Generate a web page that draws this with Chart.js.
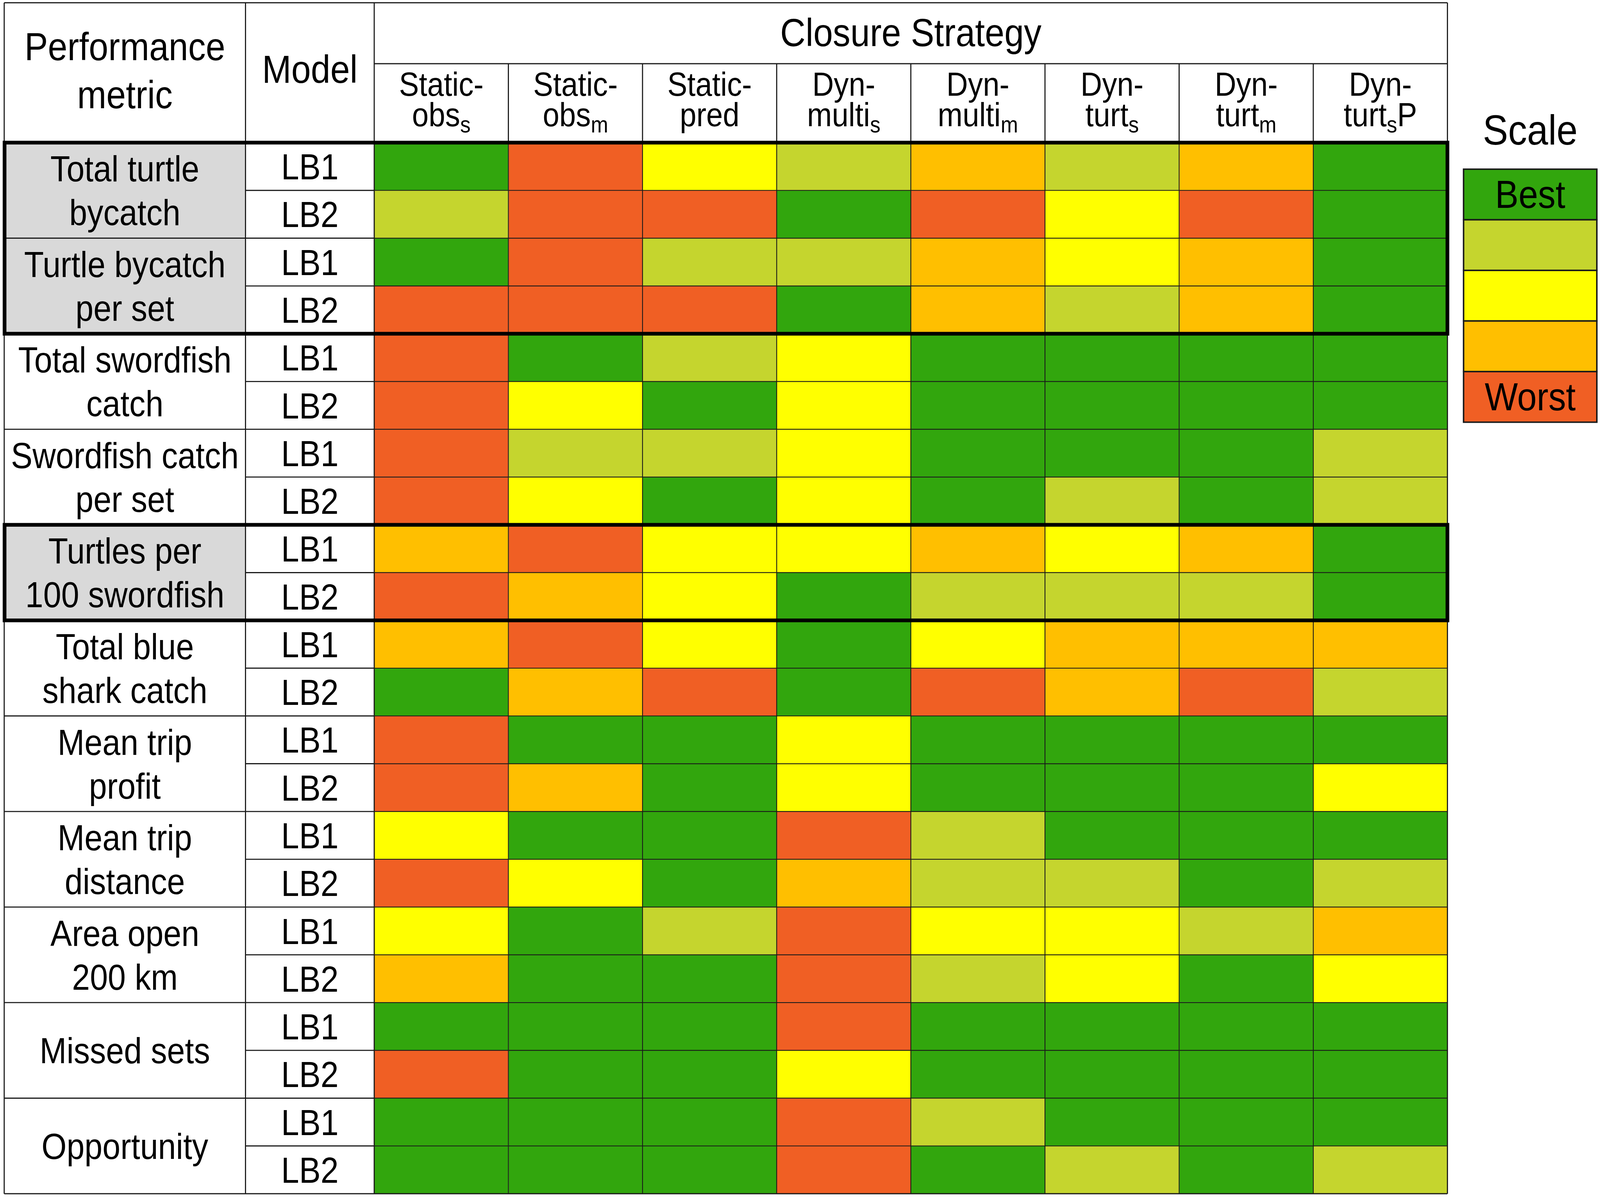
<!DOCTYPE html>
<html>
<head>
<meta charset="utf-8">
<title>Closure strategy performance</title>
<script src="https://cdn.jsdelivr.net/npm/chart.js@4.4.1/dist/chart.umd.min.js"></script>
<style>
  html, body { margin: 0; padding: 0; background: #fff; overflow: hidden; }
  canvas { display: block; }
</style>
</head>
<body>
<canvas id="grid"></canvas>
<script>
// Rows: each performance metric has one LB1 and one LB2 row
const metrics = [
    ['Total turtle', 'bycatch'],
    ['Turtle bycatch', 'per set'],
    ['Total swordfish', 'catch'],
    ['Swordfish catch', 'per set'],
    ['Turtles per', '100 swordfish'],
    ['Total blue', 'shark catch'],
    ['Mean trip', 'profit'],
    ['Mean trip', 'distance'],
    ['Area open', '200 km'],
    ['Missed sets'],
    ['Opportunity']
];
const models = ['LB1', 'LB2'];
const highlighted = [0, 1, 4];   // metric groups shaded grey / boxed

// Closure strategy column headers: [line 1, line 2, subscript, suffix]
const strategies = [
    ['Static-', 'obs', 's', ''],
    ['Static-', 'obs', 'm', ''],
    ['Static-', 'pred', '', ''],
    ['Dyn-', 'multi', 's', ''],
    ['Dyn-', 'multi', 'm', ''],
    ['Dyn-', 'turt', 's', ''],
    ['Dyn-', 'turt', 'm', ''],
    ['Dyn-', 'turt', 's', 'P']
];

// Rank of each cell, 1 = best ... 5 = worst (rows top to bottom)
const staticObsS = [1, 2, 1, 5, 5, 5, 5, 5, 4, 5, 4, 1, 5, 5, 3, 5, 3, 4, 1, 5, 1, 1];
const staticObsM = [5, 5, 5, 5, 1, 3, 2, 3, 5, 4, 5, 4, 1, 4, 1, 3, 1, 1, 1, 1, 1, 1];
const staticPred = [3, 5, 2, 5, 2, 1, 2, 1, 3, 3, 3, 5, 1, 1, 1, 1, 2, 1, 1, 1, 1, 1];
const dynMultiS  = [2, 1, 2, 1, 3, 3, 3, 3, 3, 1, 1, 1, 3, 3, 5, 4, 5, 5, 5, 3, 5, 5];
const dynMultiM  = [4, 5, 4, 4, 1, 1, 1, 1, 4, 2, 3, 5, 1, 1, 2, 2, 3, 2, 1, 1, 2, 1];
const dynTurtS   = [2, 3, 3, 2, 1, 1, 1, 2, 3, 2, 4, 4, 1, 1, 1, 2, 3, 3, 1, 1, 1, 2];
const dynTurtM   = [4, 5, 4, 4, 1, 1, 1, 1, 4, 2, 4, 5, 1, 1, 1, 1, 2, 1, 1, 1, 1, 1];
const dynTurtSP  = [1, 1, 1, 1, 1, 1, 2, 2, 1, 1, 4, 2, 1, 3, 1, 2, 4, 3, 1, 1, 1, 2];
const scores = [staticObsS, staticObsM, staticPred, dynMultiS, dynMultiM, dynTurtS, dynTurtM, dynTurtSP];

// Scale, best to worst
const scaleColors = ['#32A60D', '#C5D52E', '#FFFF00', '#FFBF00', '#F05F24'];
const scaleLabels = ['Best', '', '', '', 'Worst'];

const FONT = '"Liberation Sans", Arial, Helvetica, sans-serif';
const GREY = '#D9D9D9';
const LINE = '#1a1a1a';

const rowLabels = [];
metrics.forEach(m => models.forEach(lb => rowLabels.push(m.join(' ') + ' ' + lb)));

// layout was measured on a 4562 x 3066 picture; stretch it to fill the window
const BASE_W = 4562, BASE_H = 3066;
const kx = window.innerWidth / BASE_W;
const ky = window.innerHeight / BASE_H;
const ux = v => v * kx;
const uy = v => v * ky;
const lw = v => v * (kx + ky) / 2;
const squeeze = kx / ky;   // horizontal text scale so glyphs follow the stretch

const TABLE_LEFT = 12;
const METRIC_RIGHT = 700;
const TABLE_TOP = 7;
const HEADER_MID = 163;

function rowEdge(chart, i) {
    const y = chart.scales.y;
    const h = (y.bottom - y.top) / rowLabels.length;
    return y.getPixelForValue(i) - h / 2;
}

function hLine(ctx, x1, x2, y) {
    ctx.beginPath();
    ctx.moveTo(x1, y);
    ctx.lineTo(x2, y);
    ctx.stroke();
}

function vLine(ctx, x, y1, y2) {
    ctx.beginPath();
    ctx.moveTo(x, y1);
    ctx.lineTo(x, y2);
    ctx.stroke();
}

function textWidth(ctx, str, size) {
    ctx.font = `${uy(size)}px ${FONT}`;
    return ctx.measureText(str).width * squeeze;
}

function drawText(ctx, str, x, y, size, align) {
    ctx.save();
    ctx.translate(x, y);
    ctx.scale(squeeze, 1);
    ctx.font = `${uy(size)}px ${FONT}`;
    ctx.textAlign = align || 'center';
    ctx.textBaseline = 'alphabetic';
    ctx.fillText(str, 0, 0);
    ctx.restore();
}

function drawSubText(ctx, cx, baseline, main, sub, tail, size) {
    const subSize = size * 0.7;
    const w1 = textWidth(ctx, main, size);
    const w2 = sub ? textWidth(ctx, sub, subSize) : 0;
    const w3 = textWidth(ctx, tail, size);
    let x = cx - (w1 + w2 + w3) / 2;
    drawText(ctx, main, x, baseline, size, 'left');
    x += w1;
    if (sub) {
        drawText(ctx, sub, x, baseline + uy(16), subSize, 'left');
        x += w2;
    }
    if (tail) drawText(ctx, tail, x, baseline, size, 'left');
}

const tableChrome = {
    id: 'tableChrome',
    beforeDraw(chart) {
        const ctx = chart.ctx;
        ctx.save();
        ctx.fillStyle = '#fff';
        ctx.fillRect(0, 0, chart.width, chart.height);
        // grey metric cells
        ctx.fillStyle = GREY;
        highlighted.forEach(g => {
            const top = rowEdge(chart, g * 2);
            const bottom = rowEdge(chart, g * 2 + 2);
            ctx.fillRect(ux(TABLE_LEFT), top, ux(METRIC_RIGHT - TABLE_LEFT), bottom - top);
        });
        ctx.restore();
    },
    afterDraw(chart) {
        const ctx = chart.ctx;
        const area = chart.chartArea;
        const x = chart.scales.x;
        const left = ux(TABLE_LEFT);
        const metricRight = ux(METRIC_RIGHT);
        const modelRight = area.left;
        const top0 = uy(TABLE_TOP);
        const n = rowLabels.length;

        ctx.save();
        ctx.strokeStyle = LINE;
        ctx.lineWidth = lw(3);

        // outer frame and column dividers
        hLine(ctx, left, area.right, top0);
        hLine(ctx, left, area.right, area.bottom);
        vLine(ctx, left, top0, area.bottom);
        vLine(ctx, area.right, top0, area.bottom);
        vLine(ctx, metricRight, top0, area.bottom);
        vLine(ctx, modelRight, top0, area.bottom);
        hLine(ctx, modelRight, area.right, uy(HEADER_MID));
        hLine(ctx, left, area.right, area.top);
        for (let c = 1; c < strategies.length; c++) {
            vLine(ctx, x.getPixelForValue(c), uy(HEADER_MID), area.top);
        }

        // row dividers: every row in the model column, every pair in the metric column
        for (let i = 1; i < n; i++) {
            const yy = rowEdge(chart, i);
            hLine(ctx, metricRight, modelRight, yy);
            if (i % 2 === 0) hLine(ctx, left, metricRight, yy);
        }

        // bold boxes around the turtle metrics
        ctx.lineWidth = lw(10);
        ctx.strokeStyle = '#000';
        const boxes = [];
        highlighted.forEach(g => {
            const last = boxes[boxes.length - 1];
            if (last && last[1] === g) last[1] = g + 1;
            else boxes.push([g, g + 1]);
        });
        boxes.forEach(([g0, g1]) => {
            const top = rowEdge(chart, g0 * 2);
            const bottom = rowEdge(chart, g1 * 2);
            ctx.strokeRect(left + ux(1), top, area.right - left - ux(1), bottom - top);
        });

        // header text
        ctx.fillStyle = '#000';
        const metricCx = (left + metricRight) / 2;
        const modelCx = (metricRight + modelRight) / 2;
        drawText(ctx, 'Performance', metricCx, uy(154), 100);
        drawText(ctx, 'metric', metricCx, uy(277), 100);
        drawText(ctx, 'Model', modelCx, uy(212), 100);
        drawText(ctx, 'Closure Strategy', (area.left + area.right) / 2, uy(118), 100);

        strategies.forEach((s, c) => {
            const cx = x.getPixelForValue(c + 0.5);
            drawText(ctx, s[0], cx, uy(245), 85);
            drawSubText(ctx, cx, uy(323), s[1], s[2], s[3], 85);
        });

        // metric and model labels
        metrics.forEach((m, g) => {
            const cy = (rowEdge(chart, g * 2) + rowEdge(chart, g * 2 + 2)) / 2;
            if (m.length === 1) {
                drawText(ctx, m[0], metricCx, cy + uy(33), 92);
            } else {
                drawText(ctx, m[0], metricCx, cy - uy(23), 92);
                drawText(ctx, m[1], metricCx, cy + uy(89), 92);
            }
        });
        rowLabels.forEach((lbl, i) => {
            const cy = (rowEdge(chart, i) + rowEdge(chart, i + 1)) / 2;
            drawText(ctx, models[i % 2], modelCx, cy + uy(33), 92);
        });

        // scale legend
        const lx = ux(4173), lwid = ux(380), ly = uy(433), lh = uy(129.5);
        drawText(ctx, 'Scale', lx + lwid / 2, uy(370), 108);
        ctx.lineWidth = lw(4);
        ctx.strokeStyle = LINE;
        scaleColors.forEach((col, j) => {
            const top = ly + j * lh;
            ctx.fillStyle = col;
            ctx.fillRect(lx, top, lwid, lh);
            ctx.strokeRect(lx, top, lwid, lh);
            if (scaleLabels[j]) {
                ctx.fillStyle = '#000';
                drawText(ctx, scaleLabels[j], lx + lwid / 2, top + lh / 2 + uy(34), 100);
            }
        });
        ctx.restore();
    }
};

// one stacked segment per strategy, each a single table column wide
const datasets = strategies.map((s, c) => ({
    label: s[0] + s[1] + (s[2] ? '_' + s[2] : '') + s[3],
    data: scores[c].map(() => 1),
    ranks: scores[c],
    backgroundColor: scores[c].map(r => scaleColors[r - 1]),
    borderColor: LINE,
    borderWidth: lw(1.5),
    borderSkipped: false,
    barPercentage: 1,
    categoryPercentage: 1
}));

const canvas = document.getElementById('grid');
canvas.width = window.innerWidth;
canvas.height = window.innerHeight;

new Chart(canvas, {
    type: 'bar',
    data: { labels: rowLabels, datasets: datasets },
    options: {
        indexAxis: 'y',
        responsive: false,
        animation: false,
        layout: { padding: { left: ux(1067), top: uy(365), right: ux(435), bottom: uy(11) } },
        plugins: {
            legend: { display: false },
            tooltip: { enabled: false }
        },
        scales: {
            x: { stacked: true, min: 0, max: 8, display: false },
            y: { stacked: true, display: false }
        }
    },
    plugins: [tableChrome]
});
</script>
</body>
</html>
